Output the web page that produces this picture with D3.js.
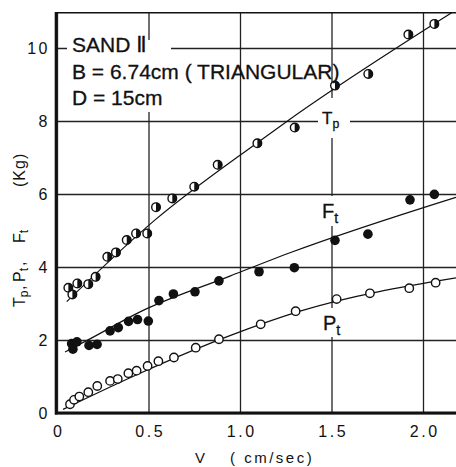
<!DOCTYPE html>
<html><head><meta charset="utf-8">
<script src="https://cdn.jsdelivr.net/npm/d3@7"></script>
<style>body{margin:0;background:#fff}svg{display:block}</style>
</head><body><svg id="c" width="456" height="467"></svg>
<script>
const vTicks=[0,0.5,1.0,1.5,2.0];
const vTickLabels=["0","0.5","1.0","1.5","2.0"];
const fTicks=[0,2,4,6,8,10];
const fTickLabels=["0","2","4","6","8","10"];

const tpV=[0.062,0.084,0.111,0.171,0.211,0.275,0.322,0.381,0.432,0.493,0.541,0.630,0.750,0.878,1.095,1.299,1.519,1.701,1.920,2.062];
const tpF=[3.43,3.25,3.55,3.53,3.73,4.28,4.40,4.74,4.92,4.92,5.64,5.88,6.20,6.80,7.39,7.82,8.97,9.29,10.37,10.66];
const ftV=[0.080,0.087,0.109,0.175,0.219,0.290,0.335,0.391,0.440,0.499,0.557,0.636,0.754,0.885,1.104,1.297,1.519,1.699,1.929,2.062];
const ftF=[1.90,1.75,1.95,1.85,1.88,2.25,2.34,2.51,2.56,2.52,3.08,3.26,3.32,3.62,3.87,3.98,4.73,4.90,5.84,5.99];
const ptV=[0.071,0.093,0.122,0.171,0.220,0.290,0.332,0.390,0.435,0.495,0.554,0.639,0.758,0.885,1.113,1.304,1.528,1.710,1.925,2.069];
const ptF=[0.24,0.36,0.45,0.57,0.74,0.88,0.93,1.09,1.16,1.29,1.42,1.52,1.79,2.02,2.43,2.79,3.12,3.28,3.42,3.57];

const tpFitV=[0.053,0.536,1.093,1.273,2.180];
const tpFitF=[3.05,5.29,7.40,8.05,11.04];
const ftFitV=[0.044,0.18,0.454,0.945,1.273,2.180];
const ftFitF=[1.67,2.03,2.77,3.75,4.39,5.91];
const ptFitV=[0.033,0.454,0.945,1.328,2.180];
const ptFitF=[0.10,1.09,2.12,2.79,3.70];

const FONT="Liberation Sans, DejaVu Sans, sans-serif";
const INK="#111";
const svg=d3.select("#c").attr("font-family",FONT).attr("fill",INK);
const L=57, R=456, B=413, T=12.7;
const x=d3.scaleLinear().domain([0,2.2]).range([L,L+2.2*183]);
const y=d3.scaleLinear().domain([0,10]).range([B,48]);

svg.append("rect").attr("width",456).attr("height",467).attr("fill","#fff");
svg.append("defs").append("clipPath").attr("id","clip").append("rect")
  .attr("x",L).attr("y",T).attr("width",R-L).attr("height",B-T);

// grid + y tick labels
const gy=svg.append("g").attr("transform",`translate(${L},0)`)
  .call(d3.axisLeft(y).tickValues(fTicks).tickFormat((d,i)=>fTickLabels[i]).tickSize(-(R-L)).tickPadding(7));
gy.select(".domain").remove();
gy.selectAll(".tick line").attr("stroke","#222").attr("stroke-width",1.3).attr("x1",-2);
gy.selectAll(".tick text").attr("font-size",16).attr("fill",INK).attr("letter-spacing",2.5).attr("font-family",FONT);

const gx=svg.append("g").attr("transform",`translate(0,${B})`)
  .call(d3.axisBottom(x).tickValues(vTicks).tickFormat((d,i)=>vTickLabels[i]).tickSize(-(B-T)).tickPadding(13));
gx.select(".domain").remove();
gx.selectAll(".tick line").attr("stroke","#222").attr("stroke-width",1.3);
gx.selectAll(".tick text").attr("font-size",16).attr("fill",INK).attr("letter-spacing",2.5).attr("dx",1.2).attr("font-family",FONT);

// borders
svg.append("line").attr("x1",L-1).attr("x2",R).attr("y1",T).attr("y2",T).attr("stroke",INK).attr("stroke-width",1.6);
svg.append("line").attr("x1",L-1).attr("x2",L-1).attr("y1",T-0.8).attr("y2",B+1.5).attr("stroke",INK).attr("stroke-width",2.6);
svg.append("line").attr("x1",L-2).attr("x2",R).attr("y1",B).attr("y2",B).attr("stroke",INK).attr("stroke-width",2.8);

// white gaps behind labels
const gaps=[[67,40,171,112],[318,98,350,138],[320,196,348,226],[320,308,345,337]];
gaps.forEach(g=>svg.append("rect").attr("x",g[0]).attr("y",g[1]).attr("width",g[2]-g[0]).attr("height",g[3]-g[1]).attr("fill","#fff"));

// fit curves
const line=d3.line().x(d=>x(d[0])).y(d=>y(d[1])).curve(d3.curveMonotoneX);
[[tpFitV,tpFitF],[ftFitV,ftFitF],[ptFitV,ptFitF]].forEach(([vs,fs])=>{
  svg.append("path").attr("clip-path","url(#clip)").attr("d",line(vs.map((v,i)=>[v,fs[i]])))
    .attr("fill","none").attr("stroke",INK).attr("stroke-width",1.2);
});

// markers
const pt=svg.append("g");
pt.selectAll("circle").data(ptV.map((v,i)=>[v,ptF[i]])).join("circle")
  .attr("cx",d=>x(d[0])).attr("cy",d=>y(d[1])).attr("r",4.2).attr("fill","#fff").attr("stroke",INK).attr("stroke-width",1.4);
const ft=svg.append("g");
ft.selectAll("circle").data(ftV.map((v,i)=>[v,ftF[i]])).join("circle")
  .attr("cx",d=>x(d[0])).attr("cy",d=>y(d[1])).attr("r",4.8).attr("fill",INK);
const tp=svg.append("g");
const tpd=tpV.map((v,i)=>[v,tpF[i]]);
tp.selectAll("circle").data(tpd).join("circle")
  .attr("cx",d=>x(d[0])).attr("cy",d=>y(d[1])).attr("r",4.3).attr("fill","#fff").attr("stroke",INK).attr("stroke-width",1.4);
tp.selectAll("path").data(tpd).join("path")
  .attr("d",d=>{const cx=x(d[0]),cy=y(d[1]),r=4.6;return `M${cx},${cy-r}A${r},${r} 0 0 1 ${cx},${cy+r}Z`;})
  .attr("fill",INK);

// annotation text
const ann=svg.append("g").attr("font-size",21).attr("fill",INK).attr("stroke",INK).attr("stroke-width",0.3);
ann.append("text").attr("x",72).attr("y",52).text("SAND Ⅱ");
ann.append("text").attr("x",72).attr("y",79).attr("xml:space","preserve").text("B = 6.74cm ( TRIANGULAR)");
ann.append("text").attr("x",72).attr("y",105).attr("xml:space","preserve").text("D = 15cm");

function subLabel(xp,yp,main,sub,fs){
  const t=svg.append("text").attr("x",xp).attr("y",yp).attr("font-size",fs).attr("fill",INK).attr("stroke",INK).attr("stroke-width",0.3);
  t.append("tspan").text(main);
  t.append("tspan").attr("font-size",fs*0.72).attr("dy",fs*0.25).text(sub);
}
subLabel(322,124,"T","p",17);
subLabel(322,218,"F","t",20);
subLabel(323,330,"P","t",20);

// axis titles
svg.append("text").attr("x",200).attr("y",463).attr("font-size",15).attr("text-anchor","middle").attr("fill",INK).text("V");
svg.append("text").attr("x",230).attr("y",463).attr("font-size",15).attr("letter-spacing",2.5).attr("fill",INK).attr("xml:space","preserve").text("( cm/sec)");

const yt=svg.append("g").attr("transform","translate(25,307) rotate(-90)").attr("font-size",16).attr("fill",INK);
function rl(xp,main,sub){
  const t=yt.append("text").attr("x",xp).attr("y",0);
  t.append("tspan").text(main);
  if(sub){t.append("tspan").attr("font-size",12).attr("dy",3).text(sub);}
}
rl(0,"T","p"); yt.append("text").attr("x",17).attr("y",0).text(",");
rl(25,"P","t"); yt.append("text").attr("x",41).attr("y",0).text(",");
rl(64,"F","t");
yt.append("text").attr("x",120).attr("y",0).attr("letter-spacing",1).text("(Kg)");
</script></body></html>
